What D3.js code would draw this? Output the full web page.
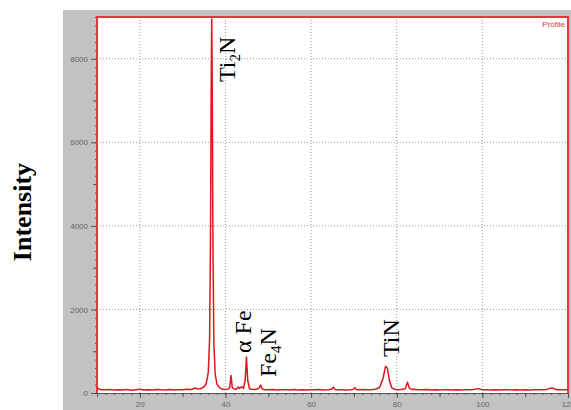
<!DOCTYPE html>
<html>
<head>
<meta charset="utf-8">
<script src="https://cdn.jsdelivr.net/npm/d3@7"></script>
<style>
  body { margin: 0; background: #fff; }
  .tick text { font-family: Arial, "Liberation Sans", sans-serif; font-size: 8px; fill: #666; }
  .tick line { stroke: #555; }
</style>
</head>
<body>
<div class="chart"></div>
<script>
var svgWidth = 571;
var svgHeight = 410;

// 2-theta (deg) and intensity
var twoTheta = [10, 10.5, 11, 12, 13, 14, 15, 16, 17, 18, 19, 20, 21, 22, 23, 24, 25, 26, 27, 28, 29, 30,
  31, 32, 33, 33.5, 34, 34.5, 35, 35.5, 36, 36.3, 36.5, 36.7, 36.8, 36.9, 37.1, 37.3, 37.6, 38, 38.5, 39, 39.5, 40,
  40.5, 41, 41.3, 41.6, 42, 42.5, 43, 43.3, 43.8, 44.2, 44.6, 44.9, 45.2, 45.6, 46, 47, 47.8, 48.2, 48.6, 49, 50,
  51, 52, 53, 54, 55, 56, 57, 58, 59, 60, 61, 62, 63, 64, 64.8, 65.2, 65.6, 66, 67, 68, 69, 69.8, 70.2, 70.6,
  71, 72, 73, 74, 75, 76, 76.8, 77.4, 77.8, 78.3, 78.8, 79.5, 80, 81, 82, 82.5, 83, 83.5, 84, 85, 86, 87, 88,
  89, 90, 91, 92, 93, 94, 95, 96, 97, 98, 99, 99.5, 100, 101, 102, 103, 104, 105, 106, 107, 108, 109, 110,
  111, 112, 113, 114, 115, 115.8, 116.3, 116.8, 117.5, 118, 119, 120];
var intensity = [130, 95, 80, 75, 85, 70, 80, 72, 85, 68, 78, 90, 70, 80, 72, 85, 75, 70, 82, 74, 80, 78,
  90, 85, 120, 95, 100, 120, 150, 220, 500, 1300, 3600, 7800, 8950, 7600, 3200, 1200, 450, 220, 140, 100, 90, 85,
  90, 130, 420, 130, 95, 90, 140, 110, 150, 110, 300, 860, 300, 110, 90, 85, 110, 190, 100, 80, 75,
  85, 70, 80, 75, 72, 85, 70, 78, 72, 80, 75, 82, 70, 80, 90, 140, 85, 75, 80, 72, 78, 85, 125, 80,
  75, 82, 75, 80, 90, 130, 350, 640, 600, 300, 130, 90, 80, 85, 100, 260, 110, 85, 90, 80, 75, 82, 70,
  78, 72, 80, 75, 70, 78, 72, 80, 75, 85, 105, 90, 75, 80, 72, 78, 70, 80, 75, 72, 80, 74, 78,
  72, 80, 75, 78, 85, 110, 125, 95, 80, 75, 78, 80];

var xTicks = [20, 40, 60, 80, 100, 120];
var yTicks = [0, 2000, 4000, 6000, 8000];

// phase labels: [text, subscript, rest, 2-theta position]
var phaseNames = ["Ti", "α Fe", "Fe", "TiN"];
var phaseSubs = ["2", "", "4", ""];
var phaseTails = ["N", "", "N", ""];

var panel = {left: 63, top: 10, right: 571, bottom: 410};
var plot = {left: 97, top: 17, right: 568, bottom: 393};

var svg = d3.select(".chart")
    .append("svg")
    .attr("width", svgWidth)
    .attr("height", svgHeight);

svg.append("rect")
    .attr("x", panel.left)
    .attr("y", panel.top)
    .attr("width", panel.right - panel.left)
    .attr("height", panel.bottom - panel.top)
    .attr("fill", "#c2c2c2");

svg.append("rect")
    .attr("x", plot.left)
    .attr("y", plot.top)
    .attr("width", plot.right - plot.left)
    .attr("height", plot.bottom - plot.top)
    .attr("fill", "#fff");

var x = d3.scaleLinear().domain([10, 120]).range([plot.left, plot.right]);
var y = d3.scaleLinear().domain([0, 9000]).range([plot.bottom, plot.top]);

// dotted grid
svg.selectAll(".vgrid")
    .data(xTicks.filter(d => d < 120))
    .join("line")
    .attr("x1", d => x(d)).attr("x2", d => x(d))
    .attr("y1", plot.top).attr("y2", plot.bottom)
    .attr("stroke", "#9a9a9a")
    .attr("stroke-dasharray", "1,2");

svg.selectAll(".hgrid")
    .data(yTicks.filter(d => d > 0))
    .join("line")
    .attr("x1", plot.left).attr("x2", plot.right)
    .attr("y1", d => y(d)).attr("y2", d => y(d))
    .attr("stroke", "#9a9a9a")
    .attr("stroke-dasharray", "1,2");

// y axis: labelled, mid and minor ticks
var yMinor = d3.range(0, 9001, 200);
var yMid = d3.range(1000, 9000, 2000);
svg.append("g")
    .attr("transform", `translate(${plot.left},0)`)
    .call(d3.axisLeft(y).tickValues(yMinor).tickSize(2).tickFormat(""))
    .call(g => g.select(".domain").remove());
svg.append("g")
    .attr("transform", `translate(${plot.left},0)`)
    .call(d3.axisLeft(y).tickValues(yMid).tickSize(4).tickFormat(""))
    .call(g => g.select(".domain").remove());
svg.append("g")
    .attr("transform", `translate(${plot.left},0)`)
    .call(d3.axisLeft(y).tickValues(yTicks).tickSize(6).tickPadding(3).tickFormat(d3.format("d")))
    .call(g => g.select(".domain").remove());

// x axis
var xMinor = d3.range(10, 121, 2);
var xMid = d3.range(10, 121, 20);
svg.append("g")
    .attr("transform", `translate(0,${plot.bottom})`)
    .call(d3.axisBottom(x).tickValues(xMinor).tickSize(2).tickFormat(""))
    .call(g => g.select(".domain").attr("stroke", "#555"));
svg.append("g")
    .attr("transform", `translate(0,${plot.bottom})`)
    .call(d3.axisBottom(x).tickValues(xMid).tickSize(4).tickFormat(""))
    .call(g => g.select(".domain").remove());
svg.append("g")
    .attr("transform", `translate(0,${plot.bottom})`)
    .call(d3.axisBottom(x).tickValues(xTicks).tickSize(5).tickPadding(3).tickFormat(d3.format("d")))
    .call(g => g.select(".domain").remove());

// red frame
svg.append("path")
    .attr("d", `M${plot.left},${plot.bottom}V${plot.top}H${plot.right}V${plot.bottom}`)
    .attr("fill", "none")
    .attr("stroke", "#e03a3e")
    .attr("stroke-width", 2);

// profile line
var pts = twoTheta.map((t, i) => [t, intensity[i]]);
svg.append("path")
    .datum(pts)
    .attr("fill", "none")
    .attr("stroke", "#e0161c")
    .attr("stroke-width", 1.5)
    .attr("stroke-linejoin", "round")
    .attr("d", d3.line().x(d => x(d[0])).y(d => y(d[1])));

svg.append("text")
    .attr("x", 565)
    .attr("y", 27)
    .attr("text-anchor", "end")
    .attr("font-family", "Arial, sans-serif")
    .attr("font-size", "8px")
    .attr("fill", "#d04040")
    .text("Profile");

// phase annotations (rotated)
var labelPos = [[235, 82], [251, 353], [276, 377], [399, 357]];
phaseNames.forEach((name, i) => {
    var t = svg.append("text")
        .attr("transform", `translate(${labelPos[i][0]},${labelPos[i][1]}) rotate(-90)`)
        .attr("font-family", "'Liberation Serif', 'Times New Roman', serif")
        .attr("font-size", "24px")
        .attr("fill", "#000");
    t.append("tspan").text(name);
    if (phaseSubs[i]) {
        t.append("tspan").attr("dy", 5).attr("font-size", "15px").text(phaseSubs[i]);
        t.append("tspan").attr("dy", -5).text(phaseTails[i]);
    }
});

svg.append("text")
    .attr("transform", "translate(31,212) rotate(-90)")
    .attr("text-anchor", "middle")
    .attr("font-family", "'Liberation Serif', 'Times New Roman', serif")
    .attr("font-weight", "bold")
    .attr("font-size", "26px")
    .attr("fill", "#000")
    .text("Intensity");
</script>
</body>
</html>
